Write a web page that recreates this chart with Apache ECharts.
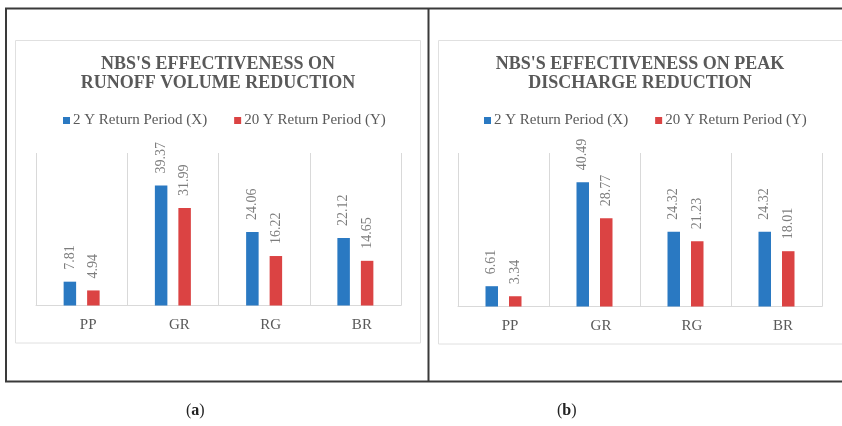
<!DOCTYPE html>
<html>
<head>
<meta charset="utf-8">
<script src="https://cdn.jsdelivr.net/npm/echarts@6/dist/echarts.min.js"></script>
<style>
  html, body { margin: 0; padding: 0; background: #ffffff; }
  #chart { width: 842px; height: 426px; }
</style>
</head>
<body>
<div id="chart"></div>
<script>
// Nature-based solutions: reduction (%) per measure for two storm return periods
const categories = ['PP', 'GR', 'RG', 'BR'];
const seriesNames = ['2 Y Return Period (X)', '20 Y Return Period (Y)'];

// (a) runoff volume reduction
const runoff2Y = [7.81, 39.37, 24.06, 22.12];
const runoff20Y = [4.94, 31.99, 16.22, 14.65];

// (b) peak discharge reduction
const peak2Y = [6.61, 40.49, 24.32, 24.32];
const peak20Y = [3.34, 28.77, 21.23, 18.01];

const titles = [
  "NBS'S EFFECTIVENESS ON\nRUNOFF VOLUME REDUCTION",
  "NBS'S EFFECTIVENESS ON PEAK\nDISCHARGE REDUCTION"
];
const captions = ['a', 'b'];

const FONT = 'Liberation Serif';
const TEXT = '#595959';
const LABEL = '#7d7d7d';
const GRIDLINE = '#d9d9d9';
const BLUE = '#2a79c2';
const RED = '#db4343';

const chart = echarts.init(document.getElementById('chart'), null, { renderer: 'canvas' });

function barSeries(name, data, idx, color) {
  return {
    name: name,
    type: 'bar',
    xAxisIndex: idx,
    yAxisIndex: idx,
    data: data,
    barWidth: 12.5,
    barGap: '88%',
    itemStyle: { color: color },
    label: {
      show: true,
      position: 'top',
      distance: 12,
      rotate: 90,
      align: 'left',
      verticalAlign: 'middle',
      fontFamily: FONT,
      fontSize: 14,
      color: LABEL,
      formatter: p => p.value.toFixed(2)
    }
  };
}

function xAxis(idx) {
  return {
    type: 'category',
    gridIndex: idx,
    data: categories,
    boundaryGap: true,
    axisLine: { show: true, lineStyle: { color: GRIDLINE, width: 1 } },
    axisTick: { show: false },
    splitLine: { show: true, lineStyle: { color: GRIDLINE, width: 1 } },
    axisLabel: {
      margin: 12, fontFamily: FONT, fontSize: 15, color: TEXT,
      padding: [0, 0, 0, 13]
    }
  };
}

function yAxis(idx) {
  return {
    type: 'value',
    gridIndex: idx,
    min: 0,
    max: 50,
    show: false,
    splitLine: { show: false }
  };
}

const legendCommon = {
  data: seriesNames,
  icon: 'rect',
  itemWidth: 7,
  itemHeight: 7,
  itemGap: 27,
  padding: 0,
  top: 113,
  selectedMode: false,
  textStyle: { fontFamily: FONT, fontSize: 15, color: TEXT, padding: [0, 0, 0, -2] }
};

const option = {
  backgroundColor: '#ffffff',
  animation: false,
  title: [
    {
      text: titles[0], left: 218, top: 54.5, textAlign: 'center', padding: 0,
      textStyle: { fontFamily: FONT, fontWeight: 'bold', fontSize: 18, lineHeight: 19, color: TEXT }
    },
    {
      text: titles[1], left: 640, top: 54.5, textAlign: 'center', padding: 0,
      textStyle: { fontFamily: FONT, fontWeight: 'bold', fontSize: 18, lineHeight: 19, color: TEXT }
    }
  ],
  legend: [
    Object.assign({}, legendCommon, { left: 63 }),
    Object.assign({}, legendCommon, { left: 484 })
  ],
  grid: [
    { left: 36, top: 153, width: 365, height: 152.5 },
    { left: 458, top: 153, width: 364, height: 153.5 }
  ],
  xAxis: [xAxis(0), xAxis(1)],
  yAxis: [yAxis(0), yAxis(1)],
  series: [
    barSeries(seriesNames[0], runoff2Y, 0, BLUE),
    barSeries(seriesNames[1], runoff20Y, 0, RED),
    barSeries(seriesNames[0], peak2Y, 1, BLUE),
    barSeries(seriesNames[1], peak20Y, 1, RED)
  ],
  graphic: [
    // outer figure frame and panel divider
    {
      type: 'rect', silent: true, z: 0,
      shape: { x: 6, y: 8.5, width: 845, height: 373 },
      style: { fill: 'none', stroke: '#3a3a3a', lineWidth: 2 }
    },
    {
      type: 'line', silent: true, z: 0,
      shape: { x1: 428.5, y1: 8.5, x2: 428.5, y2: 381.5 },
      style: { stroke: '#3a3a3a', lineWidth: 2 }
    },
    // chart area borders
    {
      type: 'rect', silent: true, z: 0,
      shape: { x: 15.5, y: 40.5, width: 405, height: 302.5 },
      style: { fill: 'none', stroke: '#e0e0e0', lineWidth: 1 }
    },
    {
      type: 'rect', silent: true, z: 0,
      shape: { x: 438.5, y: 40.5, width: 410, height: 303.5 },
      style: { fill: 'none', stroke: '#e0e0e0', lineWidth: 1 }
    },
    // panel captions
    {
      type: 'text', silent: true, left: 186, top: 403,
      style: {
        text: '{p|(}{b|' + captions[0] + '}{p|)}',
        rich: {
          p: { fontFamily: FONT, fontSize: 16, fill: '#222' },
          b: { fontFamily: FONT, fontSize: 16, fontWeight: 'bold', fill: '#222' }
        }
      }
    },
    {
      type: 'text', silent: true, left: 557, top: 403,
      style: {
        text: '{p|(}{b|' + captions[1] + '}{p|)}',
        rich: {
          p: { fontFamily: FONT, fontSize: 16, fill: '#222' },
          b: { fontFamily: FONT, fontSize: 16, fontWeight: 'bold', fill: '#222' }
        }
      }
    }
  ]
};

chart.setOption(option);
</script>
</body>
</html>
